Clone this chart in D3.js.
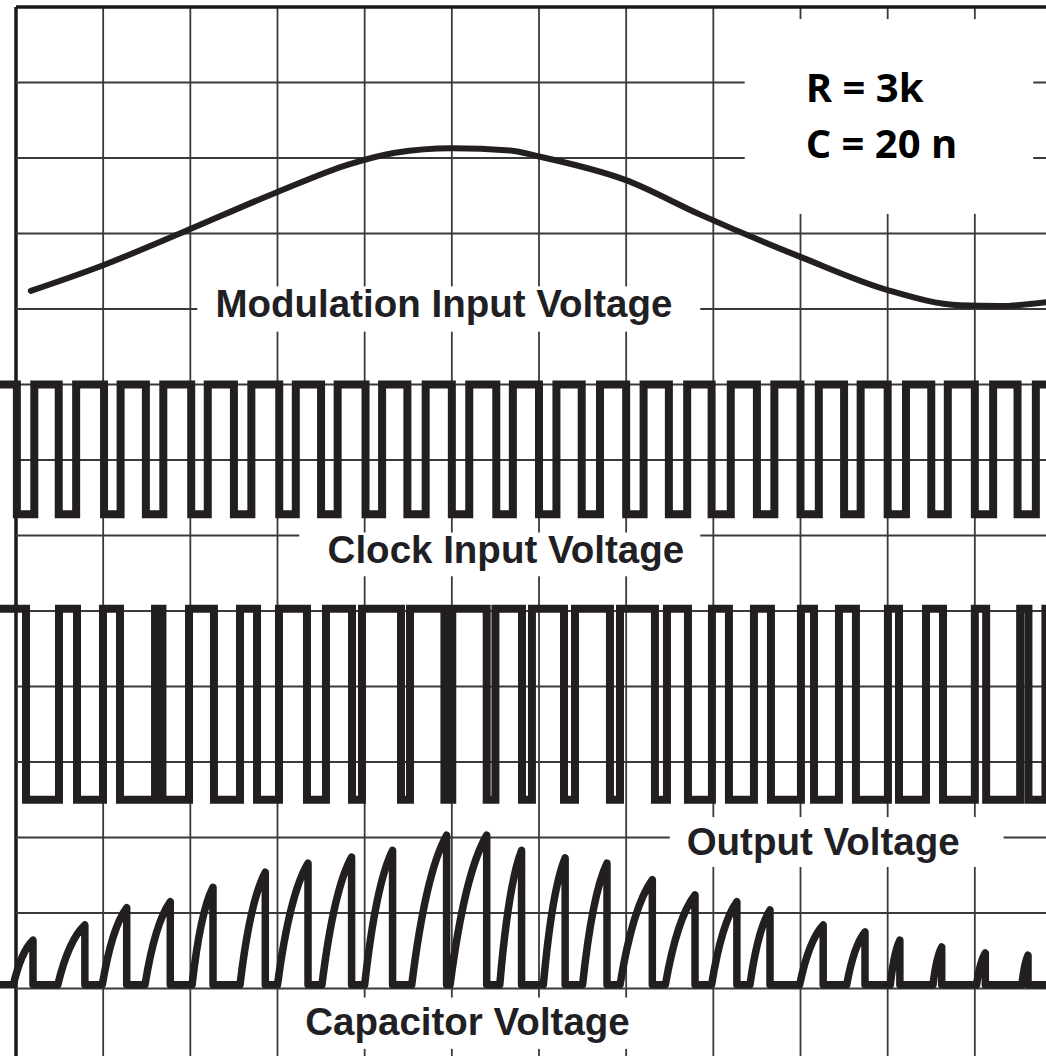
<!DOCTYPE html>
<html>
<head>
<meta charset="utf-8">
<script src="https://cdn.jsdelivr.net/npm/d3@7"></script>
<style>
  html, body { margin: 0; padding: 0; background: #fff; }
  svg { display: block; }
</style>
</head>
<body>
<svg id="chart" width="1046" height="1056"></svg>
<script>
// all values in screen divisions: time 0..12 across, level 0..14 up from the bottom
var gridCols = [0, 1, 2, 3, 4, 5, 6, 7, 8, 9, 10, 11, 12];
var gridRows = [0, 1, 2, 3, 4, 5, 6, 7, 8, 9, 10, 11, 12, 13, 14];

var traceNames = ["Modulation Input Voltage", "Clock Input Voltage", "Output Voltage", "Capacitor Voltage"];
var noteLines = ["R = 3k", "C = 20 n"];

// modulation input [time, level]
var modulation = [
  [0.17, 10.24], [1.0, 10.58], [1.88, 11.0], [3.0, 11.55], [3.83, 11.92],
  [4.35, 12.07], [5.0, 12.13], [5.67, 12.1], [6.0, 12.02], [6.99, 11.71],
  [7.85, 11.25], [9.02, 10.68], [10.0, 10.25], [10.83, 10.05], [11.29, 10.04],
  [11.82, 10.09]
];

// clock input: levels and the [falling, rising] edge of each low pulse
var clockHigh = 9.0, clockLow = 7.28;
var clockPulses = [
  [0.01, 0.21], [0.49, 0.69], [1.01, 1.2], [1.49, 1.69], [2.01, 2.2], [2.5, 2.7],
  [3.02, 3.21], [3.5, 3.69], [4.01, 4.2], [4.49, 4.7], [5.0, 5.2], [5.51, 5.7],
  [6.0, 6.2], [6.49, 6.7], [7.0, 7.2], [7.49, 7.7], [7.98, 8.2], [8.5, 8.7],
  [9.0, 9.21], [9.5, 9.69], [10.0, 10.21], [10.5, 10.69], [11.0, 11.21], [11.49, 11.7]
];

// output: levels and the [rising, falling] edge of each high pulse
var outHigh = 6.03, outLow = 3.5;
var outPulses = [
  [-0.3, 0.115], [0.493, 0.70], [0.998, 1.193], [1.595, 1.68], [1.985, 2.271],
  [2.57, 2.765], [3.017, 3.338], [3.556, 3.855], [3.969, 4.417], [4.52, 4.915],
  [5.005, 5.40], [5.50, 5.805], [5.919, 6.287], [6.413, 6.814], [6.929, 7.33],
  [7.468, 7.709], [7.984, 8.179], [8.466, 8.661], [9.005, 9.155], [9.441, 9.636],
  [10.003, 10.13], [10.44, 10.635], [11.0, 11.13], [11.52, 11.615], [11.81, 12.3]
];

// capacitor: base level and each ramp [start, peak time, peak level]
var capBase = 1.05;
var capRamps = [
  [-0.03, 0.195, 1.64], [0.48, 0.79, 1.84], [0.99, 1.27, 2.07], [1.48, 1.77, 2.15],
  [2.02, 2.26, 2.34], [2.57, 2.86, 2.54], [3.0, 3.35, 2.66], [3.51, 3.85, 2.74],
  [4.0, 4.32, 2.83], [4.54, 4.94, 3.03], [4.98, 5.40, 3.03], [5.55, 5.80, 2.83],
  [6.05, 6.30, 2.73], [6.50, 6.78, 2.66], [6.93, 7.30, 2.44], [7.45, 7.79, 2.24],
  [7.98, 8.27, 2.15], [8.42, 8.65, 2.04], [8.99, 9.26, 1.84], [9.53, 9.74, 1.75],
  [10.03, 10.14, 1.64], [10.52, 10.62, 1.55], [11.02, 11.12, 1.47], [11.54, 11.61, 1.44]
];

var W = 1046, H = 1056;
var ink = "#231f20", gridInk = "#3a3a3a";

var svg = d3.select("#chart");
svg.append("rect").attr("width", W).attr("height", H).attr("fill", "#fff");

var x = d3.scaleLinear().domain([0, 12]).range([16, 1062]);
var y = d3.scaleLinear().domain([0, 14]).range([1064, 7]);

//grid
var grid = svg.append("g");
grid.selectAll("line.v").data(gridCols).join("line")
    .attr("class", "v")
    .attr("x1", d => x(d)).attr("x2", d => x(d))
    .attr("y1", y(14)).attr("y2", H + 10)
    .attr("stroke", d => d === 0 ? "#1a1a1a" : gridInk)
    .attr("stroke-width", d => d === 0 ? 3.5 : 1.8);
grid.selectAll("line.h").data(gridRows).join("line")
    .attr("class", "h")
    .attr("x1", x(0)).attr("x2", W + 10)
    .attr("y1", d => y(d)).attr("y2", d => y(d))
    .attr("stroke", d => d === 14 ? "#1a1a1a" : gridInk)
    .attr("stroke-width", d => d === 14 ? 3.5 : 1.8);

// white patches behind the texts (in divisions: x0, x1, top, bottom)
var patches = [
  [2.08, 7.85, 10.3, 9.7],
  [3.25, 7.85, 7.04, 6.46],
  [7.5, 11.33, 3.27, 2.61],
  [3.15, 7.2, 0.88, 0.2],
  [8.36, 11.67, 13.84, 11.26]
];
svg.append("g").selectAll("rect").data(patches).join("rect")
    .attr("x", d => x(d[0])).attr("y", d => y(d[2]))
    .attr("width", d => x(d[1]) - x(d[0]))
    .attr("height", d => y(d[3]) - y(d[2]))
    .attr("fill", "#fff");

// trace names
var namePos = [[4.91, 9.89], [5.62, 6.64], [9.26, 2.77], [5.18, 0.38]];
svg.append("g").selectAll("text").data(traceNames).join("text")
    .attr("x", (d, i) => x(namePos[i][0]))
    .attr("y", (d, i) => y(namePos[i][1]))
    .attr("text-anchor", "middle")
    .attr("font-family", "'Liberation Sans', Arial, sans-serif")
    .attr("font-weight", "bold")
    .attr("font-size", 38.5)
    .attr("fill", "#1f1f24")
    .text(d => d);

svg.append("g").selectAll("text").data(noteLines).join("text")
    .attr("x", x(9.06))
    .attr("y", (d, i) => y(12.74 - i * 0.74))
    .attr("font-family", "'Open Sans', sans-serif")
    .attr("font-weight", "bold")
    .attr("font-size", 40)
    .attr("fill", "#000")
    .text(d => d);

var line = d3.line().x(d => x(d[0])).y(d => y(d[1]));

// modulation
svg.append("path")
    .attr("d", line.curve(d3.curveMonotoneX)(modulation))
    .attr("fill", "none").attr("stroke", ink)
    .attr("stroke-width", 6).attr("stroke-linecap", "round");
line.curve(d3.curveLinear);

// clock
var clockPts = [[-0.3, clockHigh]];
clockPulses.forEach(function (p) {
    clockPts.push([p[0], clockHigh], [p[0], clockLow], [p[1], clockLow], [p[1], clockHigh]);
});
clockPts.push([12.3, clockHigh]);
svg.append("path").attr("d", line(clockPts))
    .attr("fill", "none").attr("stroke", ink)
    .attr("stroke-width", 8).attr("stroke-linejoin", "miter");

// output
var outPts = [];
outPulses.forEach(function (p) {
    outPts.push([p[0], outLow], [p[0], outHigh], [p[1], outHigh], [p[1], outLow]);
});
svg.append("path").attr("d", line(outPts))
    .attr("fill", "none").attr("stroke", ink)
    .attr("stroke-width", 8).attr("stroke-linejoin", "miter");

// capacitor
var cp = d3.path();
cp.moveTo(x(-0.3), y(capBase));
capRamps.forEach(function (r) {
    var t0 = r[0], t1 = r[1], v1 = r[2];
    cp.lineTo(x(t0), y(capBase));
    cp.quadraticCurveTo(x(t0 + 0.4 * (t1 - t0)), y(capBase + 0.75 * (v1 - capBase)), x(t1), y(v1));
    cp.lineTo(x(t1), y(capBase));
});
cp.lineTo(x(12.3), y(capBase));
svg.append("path").attr("d", cp.toString())
    .attr("fill", "none").attr("stroke", ink)
    .attr("stroke-width", 7.5).attr("stroke-linejoin", "round");
</script>
</body>
</html>
